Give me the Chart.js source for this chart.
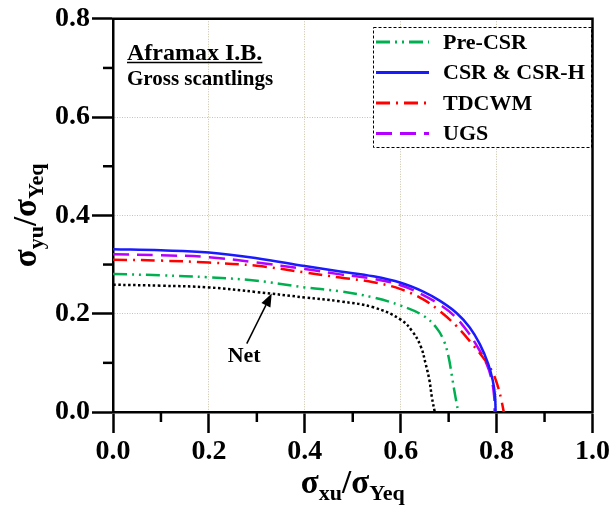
<!DOCTYPE html>
<html>
  <head>
    <title>Ultimate strength interaction - Aframax</title>
    <script src="https://cdn.jsdelivr.net/npm/chart.js"></script>
    <style>
      body { margin: 0; background: #fff; }
      #wrap { width: 612px; height: 508px; }
    </style>
  </head>
  <body>
    <div id="wrap"><canvas id="curveChart" width="612" height="508"></canvas></div>

    <script>
      // sigma_xu / sigma_Yeq (x) against sigma_yu / sigma_Yeq (y)
      const preCsrX = [0, 0.1, 0.2, 0.3, 0.4, 0.474, 0.543, 0.6, 0.647, 0.674, 0.69, 0.7, 0.706, 0.713, 0.72];
      const preCsrY = [0.281, 0.278, 0.274, 0.267, 0.2535, 0.2455, 0.233, 0.2165, 0.196, 0.172, 0.145, 0.1115, 0.078, 0.037, 0];

      const csrX = [0, 0.1, 0.2, 0.3, 0.4, 0.474, 0.543, 0.6, 0.647, 0.682, 0.717, 0.744, 0.765, 0.7825, 0.792, 0.7965, 0.798];
      const csrY = [0.331, 0.329, 0.3245, 0.313, 0.297, 0.286, 0.276, 0.263, 0.245, 0.226, 0.201, 0.172, 0.138, 0.098, 0.064, 0.035, 0];

      const tdcwmX = [0, 0.1, 0.2, 0.3, 0.4, 0.474, 0.543, 0.6, 0.647, 0.682, 0.717, 0.751, 0.779, 0.793, 0.803, 0.81, 0.815];
      const tdcwmY = [0.31, 0.308, 0.304, 0.2975, 0.284, 0.2735, 0.264, 0.25, 0.229, 0.205, 0.174, 0.136, 0.101, 0.078, 0.051, 0.024, 0];

      const ugsX = [0, 0.1, 0.2, 0.3, 0.4, 0.474, 0.543, 0.6, 0.647, 0.682, 0.71, 0.737, 0.758, 0.779, 0.79, 0.795, 0.796];
      const ugsY = [0.321, 0.319, 0.315, 0.304, 0.291, 0.28, 0.271, 0.258, 0.238, 0.218, 0.197, 0.167, 0.136, 0.098, 0.064, 0.03, 0];

      const netX = [0, 0.1, 0.2, 0.3, 0.4, 0.474, 0.543, 0.6, 0.625, 0.642, 0.652, 0.66, 0.665, 0.671];
      const netY = [0.259, 0.257, 0.2535, 0.244, 0.233, 0.225, 0.213, 0.188, 0.163, 0.133, 0.098, 0.064, 0.03, 0];

      const legendNames = ["Pre-CSR", "CSR & CSR-H", "TDCWM", "UGS"];

      // "Net" callout: label position, arrow tail and head (data units)
      const netLabel = [0.2735, 0.101];
      const netArrow = [0.279, 0.139, 0.331, 0.241];

      const SERIF = "'Liberation Serif', 'Times New Roman', serif";
      const GRID = "#c9c3a8";

      const pts = (xs, ys) => xs.map((x, i) => ({ x: x, y: ys[i] }));
      const isMajor = (v) => Math.round(v * 10) % 2 === 0;

      function series(label, xs, ys, color, dash, width) {
        return {
          label: label,
          data: pts(xs, ys),
          borderColor: color,
          borderDash: dash,
          borderWidth: width,
          borderCapStyle: "butt",
          pointRadius: 0,
          fill: false,
          tension: 0.4,
        };
      }

      // sigma with subscript, centred on cx
      function sigmaText(ctx, parts, cx, base) {
        let total = 0;
        parts.forEach((p) => {
          ctx.font = "bold " + p.size + "px " + SERIF;
          p.w = ctx.measureText(p.t).width;
          total += p.w;
        });
        let x = cx - total / 2;
        ctx.textAlign = "left";
        ctx.textBaseline = "alphabetic";
        parts.forEach((p) => {
          ctx.font = "bold " + p.size + "px " + SERIF;
          ctx.fillText(p.t, x, base + (p.dy || 0));
          x += p.w;
        });
      }

      const extras = {
        id: "extras",
        afterDraw(chart) {
          const { ctx, chartArea: a, scales } = chart;
          const sx = scales.x, sy = scales.y;
          ctx.save();
          ctx.fillStyle = "#000";
          ctx.strokeStyle = "#000";

          // closing frame, top and right
          ctx.lineWidth = 2.5;
          ctx.beginPath();
          ctx.moveTo(a.left - 1, a.top);
          ctx.lineTo(a.right, a.top);
          ctx.lineTo(a.right, a.bottom + 1);
          ctx.stroke();

          // minor ticks
          sx.ticks.filter((t) => !isMajor(t.value)).forEach((t) => {
            const px = sx.getPixelForValue(t.value);
            ctx.beginPath();
            ctx.moveTo(px, a.bottom);
            ctx.lineTo(px, a.bottom + 10);
            ctx.stroke();
          });
          sy.ticks.filter((t) => !isMajor(t.value)).forEach((t) => {
            const py = sy.getPixelForValue(t.value);
            ctx.beginPath();
            ctx.moveTo(a.left, py);
            ctx.lineTo(a.left - 10, py);
            ctx.stroke();
          });

          // axis titles
          sigmaText(ctx, [
            { t: "σ", size: 33 }, { t: "xu", size: 22, dy: 7 },
            { t: "/", size: 33 }, { t: "σ", size: 33 }, { t: "Yeq", size: 22, dy: 7 },
          ], (a.left + a.right) / 2, 493);
          ctx.save();
          ctx.translate(36, (a.top + a.bottom) / 2);
          ctx.rotate(-Math.PI / 2);
          sigmaText(ctx, [
            { t: "σ", size: 33 }, { t: "yu", size: 22, dy: 7 },
            { t: "/", size: 33 }, { t: "σ", size: 33 }, { t: "Yeq", size: 22, dy: 7 },
          ], 0, 0);
          ctx.restore();

          // case title
          ctx.textAlign = "left";
          ctx.textBaseline = "alphabetic";
          ctx.font = "bold 24px " + SERIF;
          ctx.fillText("Aframax I.B.", a.left + 14, 60);
          const tw = ctx.measureText("Aframax I.B.").width;
          ctx.lineWidth = 1.5;
          ctx.beginPath();
          ctx.moveTo(a.left + 14, 62.5);
          ctx.lineTo(a.left + 14 + tw, 62.5);
          ctx.stroke();
          ctx.font = "bold 21px " + SERIF;
          ctx.fillText("Gross scantlings", a.left + 14, 85);

          // legend box
          const bx = 373, by = 27, bw = 218, bh = 120;
          ctx.fillStyle = "#fff";
          ctx.fillRect(bx, by, bw, bh);
          ctx.setLineDash([3, 2]);
          ctx.lineWidth = 1;
          ctx.strokeRect(bx + 0.5, by + 0.5, bw, bh);
          chart.data.datasets.slice(0, legendNames.length).forEach((ds, i) => {
            const ry = 42 + i * 30.5;
            ctx.strokeStyle = ds.borderColor;
            ctx.lineWidth = 3;
            ctx.setLineDash(ds.borderDash || []);
            ctx.beginPath();
            ctx.moveTo(376, ry);
            ctx.lineTo(429, ry);
            ctx.stroke();
            ctx.setLineDash([]);
            ctx.fillStyle = "#000";
            ctx.font = "bold 22px " + SERIF;
            ctx.textBaseline = "middle";
            ctx.fillText(legendNames[i], 443, ry + 1);
          });

          // "Net" callout with arrow
          ctx.strokeStyle = "#000";
          ctx.fillStyle = "#000";
          ctx.setLineDash([]);
          ctx.textAlign = "center";
          ctx.textBaseline = "alphabetic";
          ctx.font = "bold 22px " + SERIF;
          ctx.fillText("Net", sx.getPixelForValue(netLabel[0]), sy.getPixelForValue(netLabel[1]));
          const x0 = sx.getPixelForValue(netArrow[0]), y0 = sy.getPixelForValue(netArrow[1]);
          const x1 = sx.getPixelForValue(netArrow[2]), y1 = sy.getPixelForValue(netArrow[3]);
          const ang = Math.atan2(y1 - y0, x1 - x0);
          const hl = 13, hw = 5;
          const bxh = x1 - hl * Math.cos(ang), byh = y1 - hl * Math.sin(ang);
          ctx.lineWidth = 1.5;
          ctx.beginPath();
          ctx.moveTo(x0, y0);
          ctx.lineTo(bxh, byh);
          ctx.stroke();
          ctx.beginPath();
          ctx.moveTo(x1, y1);
          ctx.lineTo(bxh + hw * Math.sin(ang), byh - hw * Math.cos(ang));
          ctx.lineTo(bxh - hw * Math.sin(ang), byh + hw * Math.cos(ang));
          ctx.closePath();
          ctx.fill();

          ctx.restore();
        },
      };

      function axis(min, max, fit) {
        return {
          type: "linear",
          min: min,
          max: max,
          afterFit: fit,
          ticks: {
            stepSize: 0.1,
            autoSkip: false,
            maxRotation: 0,
            padding: 2,
            color: "#000",
            font: { family: SERIF, size: 28, weight: "bold" },
            callback: (v) => (isMajor(v) ? v.toFixed(1) : ""),
          },
          grid: {
            color: (c) => (c.tick && isMajor(c.tick.value) ? GRID : "rgba(0,0,0,0)"),
            lineWidth: 1,
            tickLength: 21,
            tickWidth: 2.5,
            tickColor: (c) => (c.tick && isMajor(c.tick.value) ? "#000" : "rgba(0,0,0,0)"),
          },
          border: { display: true, color: "#000", width: 2.5, dash: [1, 1.5] },
        };
      }

      new Chart(document.getElementById("curveChart"), {
        type: "line",
        data: {
          datasets: [
            series("Pre-CSR", preCsrX, preCsrY, "#00b050", [14, 5, 2, 5, 2, 5], 2.5),
            series("CSR & CSR-H", csrX, csrY, "#1a1aff", [], 2.5),
            series("TDCWM", tdcwmX, tdcwmY, "#ff0000", [14, 6, 2, 6], 2.5),
            series("UGS", ugsX, ugsY, "#b400ff", [16, 8], 2.5),
            series("Net", netX, netY, "#000000", [2.5, 2.5], 2.5),
          ],
        },
        options: {
          responsive: false,
          animation: false,
          layout: { padding: { left: 0, top: 17, right: 19, bottom: 0 } },
          plugins: { legend: { display: false }, tooltip: { enabled: false } },
          scales: {
            x: axis(0, 1, (s) => { s.height = 96; }),
            y: axis(0, 0.8, (s) => { s.width = 113; }),
          },
        },
        plugins: [extras],
      });
    </script>
  </body>
</html>
